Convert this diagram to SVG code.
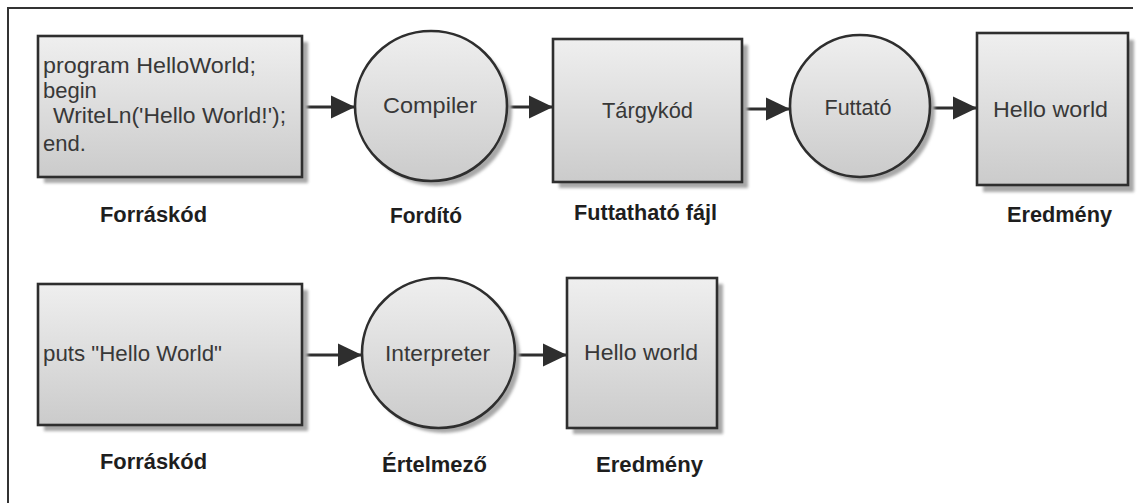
<svg xmlns="http://www.w3.org/2000/svg" width="1137" height="503" viewBox="0 0 1137 503">
<defs>
<linearGradient id="g" x1="0" y1="0" x2="0" y2="1">
<stop offset="0" stop-color="#efefef"/>
<stop offset="1" stop-color="#cbcbcb"/>
</linearGradient>
<filter id="sh" x="-10%" y="-10%" width="130%" height="130%">
<feGaussianBlur stdDeviation="1.5"/>
</filter>
<marker id="ah" markerUnits="userSpaceOnUse" markerWidth="25" markerHeight="24" refX="24" refY="12" orient="auto">
<path d="M0,0.5 L24,12 L0,23.5 z" fill="#2e2e2e"/>
</marker>
</defs>
<style>
.shape{fill:url(#g);stroke:#2e2e2e;stroke-width:2.6}
.shadow{fill:#a8a8a8;filter:url(#sh)}
.t{font-family:"Liberation Sans",Arial,sans-serif;font-size:22px;fill:#383838}
.c{text-anchor:middle}
.lbl{font-family:"Liberation Sans",Arial,sans-serif;font-size:22px;font-weight:bold;fill:#1e1e1e;text-anchor:middle}
.conn{stroke:#2e2e2e;stroke-width:3;fill:none;marker-end:url(#ah)}
.frame{stroke:#333;stroke-width:2;fill:none}
</style>
<rect width="1137" height="503" fill="#ffffff"/>
<path class="frame" d="M8,503 L8,8 L1133,8"/>

<g id="connectors">
<line class="conn" x1="302" y1="107" x2="355" y2="107"/>
<line class="conn" x1="507" y1="107" x2="553" y2="107"/>
<line class="conn" x1="742" y1="109" x2="790" y2="109"/>
<line class="conn" x1="930" y1="108" x2="977" y2="108"/>
<line class="conn" x1="302" y1="355" x2="362" y2="355"/>
<line class="conn" x1="515" y1="355" x2="567" y2="355"/>
</g>

<g id="src1">
<rect class="shadow" x="44" y="42" width="264" height="141"/>
<rect class="shape" x="38" y="36" width="264" height="141"/>
<text class="t" x="43" y="73" textLength="213" lengthAdjust="spacingAndGlyphs">program HelloWorld;</text>
<text class="t" x="43" y="98">begin</text>
<text class="t" x="53" y="123" textLength="233" lengthAdjust="spacingAndGlyphs">WriteLn('Hello World!');</text>
<text class="t" x="43" y="151">end.</text>
<text class="lbl" x="153.5" y="222" textLength="107" lengthAdjust="spacingAndGlyphs">Forráskód</text>
</g>

<g id="compiler">
<ellipse class="shadow" cx="436" cy="111" rx="76" ry="75"/>
<ellipse class="shape" cx="431" cy="106" rx="76" ry="75"/>
<text class="t c" x="430" y="113" textLength="94" lengthAdjust="spacingAndGlyphs">Compiler</text>
<text class="lbl" x="426" y="223" textLength="72" lengthAdjust="spacingAndGlyphs">Fordító</text>
</g>

<g id="targykod">
<rect class="shadow" x="559" y="45" width="189" height="143"/>
<rect class="shape" x="553" y="39" width="189" height="143"/>
<text class="t c" x="647.5" y="118" textLength="91" lengthAdjust="spacingAndGlyphs">Tárgykód</text>
<text class="lbl" x="645.5" y="220" textLength="143" lengthAdjust="spacingAndGlyphs">Futtatható fájl</text>
</g>

<g id="futtato">
<ellipse class="shadow" cx="865" cy="111" rx="70" ry="71"/>
<ellipse class="shape" cx="860" cy="106" rx="70" ry="71"/>
<text class="t c" x="858" y="115" textLength="67" lengthAdjust="spacingAndGlyphs">Futtató</text>
</g>

<g id="result1">
<rect class="shadow" x="983" y="40" width="151" height="152"/>
<rect class="shape" x="977" y="33" width="151" height="152"/>
<text class="t c" x="1050.5" y="117" textLength="115" lengthAdjust="spacingAndGlyphs">Hello world</text>
<text class="lbl" x="1059.5" y="222" textLength="105" lengthAdjust="spacingAndGlyphs">Eredmény</text>
</g>

<g id="src2">
<rect class="shadow" x="44" y="290" width="264" height="141"/>
<rect class="shape" x="38" y="284" width="264" height="141"/>
<text class="t" x="43" y="361" textLength="179" lengthAdjust="spacingAndGlyphs">puts "Hello World"</text>
<text class="lbl" x="153.5" y="469" textLength="107" lengthAdjust="spacingAndGlyphs">Forráskód</text>
</g>

<g id="interpreter">
<ellipse class="shadow" cx="443.5" cy="358" rx="76.5" ry="75"/>
<ellipse class="shape" cx="438.5" cy="353" rx="76.5" ry="75"/>
<text class="t c" x="437.5" y="361" textLength="105" lengthAdjust="spacingAndGlyphs">Interpreter</text>
<text class="lbl" x="434.5" y="472" textLength="105" lengthAdjust="spacingAndGlyphs">Értelmező</text>
</g>

<g id="result2">
<rect class="shadow" x="573" y="284" width="150" height="150"/>
<rect class="shape" x="567" y="278" width="150" height="150"/>
<text class="t c" x="641" y="360" textLength="114" lengthAdjust="spacingAndGlyphs">Hello world</text>
<text class="lbl" x="649.5" y="472" textLength="107" lengthAdjust="spacingAndGlyphs">Eredmény</text>
</g>
</svg>
